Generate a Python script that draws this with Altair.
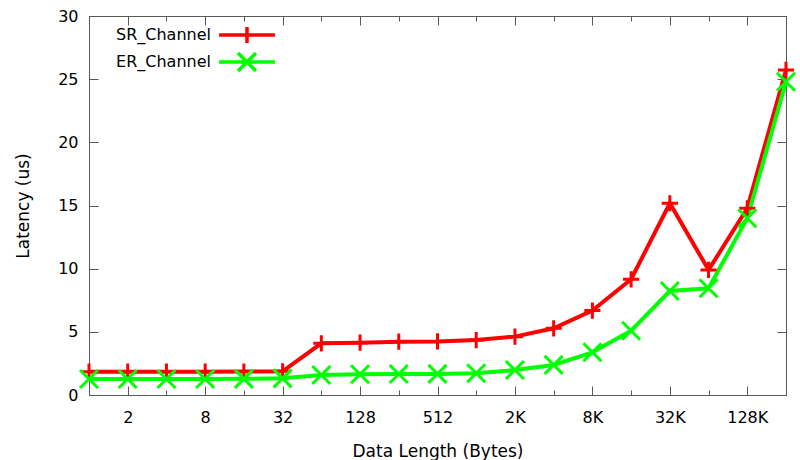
import altair as alt
import pandas as pd

sizes = ["1", "2", "4", "8", "16", "32", "64", "128", "256", "512", "1K", "2K",
         "4K", "8K", "16K", "32K", "64K", "128K", "256K"]
sr_latency = [1.85, 1.85, 1.85, 1.85, 1.86, 1.88, 4.09, 4.14, 4.22, 4.24, 4.35, 4.62,
              5.28, 6.68, 9.16, 15.18, 9.9, 14.78, 25.73]
er_latency = [1.27, 1.27, 1.27, 1.27, 1.28, 1.32, 1.58, 1.64, 1.66, 1.67, 1.72, 1.98,
              2.38, 3.38, 5.09, 8.23, 8.45, 13.99, 24.8]
series_names = ["SR_Channel", "ER_Channel"]
series_colors = ["#ff0000", "#00ff00"]
y_ticks = [0, 5, 10, 15, 20, 25, 30]

rows = []
for i, s in enumerate(sizes):
    rows.append({"idx": i, "size": s, "series": series_names[0], "latency": sr_latency[i]})
    rows.append({"idx": i, "size": s, "series": series_names[1], "latency": er_latency[i]})
df = pd.DataFrame(rows)

FONT = "DejaVu Sans"
AX = "#595959"
label_array = "[" + ",".join('"%s"' % s for s in sizes) + "]"
x_vals = list(range(len(sizes)))
x_scale = alt.Scale(domain=[0, len(sizes) - 1], nice=False, zero=False)
y_scale = alt.Scale(domain=[0, 30], nice=False)
color_scale = alt.Scale(domain=series_names, range=series_colors)
tick_expr = alt.ExprRef("datum.value % 2 == 1 ? -9 : -5")

legend_shape = ("datum.value === 'SR_Channel' ? 'M-3.1,0H3.1M0,-0.9V0.9' : "
                "'M-3.1,0H3.1M-1,-1L1,1M-1,1L1,-1'")
legend = alt.Legend(
    title=None, orient="none", legendX=147, legendY=8, padding=0,
    symbolSize=324, symbolStrokeWidth=3.5, symbolFillColor="transparent",
    symbolOpacity=1, symbolType=alt.ExprRef(legend_shape),
    labelFont=FONT, labelFontSize=16, labelColor="#000000",
    labelAlign="right", labelOffset=alt.ExprRef("-47"), rowPadding=alt.ExprRef("-10"))

x_bottom = alt.X("idx:Q", scale=x_scale, axis=alt.Axis(
    orient="bottom", values=x_vals, labelExpr="datum.value % 2 == 1 ? " + label_array + "[datum.value] : ''",
    tickSize=tick_expr, tickColor=AX, domain=False, grid=False,
    labelFont=FONT, labelFontSize=16, labelColor="#000000", labelPadding=23,
    labelBaseline="top", labelFlush=False, labelOverlap=False,
    title="Data Length (Bytes)", titleFont=FONT, titleFontSize=17, titleFontWeight="normal",
    titleColor="#000000", titleY=61.5, titleBaseline="alphabetic"))
y_left = alt.Y("latency:Q", scale=y_scale, axis=alt.Axis(
    orient="left", values=y_ticks, tickSize=alt.ExprRef("-9"), tickColor=AX, domain=False, grid=False,
    labelFont=FONT, labelFontSize=16, labelColor="#000000", labelPadding=20,
    labelFlush=False, labelOverlap=False,
    title="Latency (us)", titleFont=FONT, titleFontSize=17, titleFontWeight="normal",
    titleColor="#000000", titleX=-60.5, titleY=189.5, titleAngle=-90,
    titleBaseline="alphabetic", titleAlign="center"))
x_top = alt.X("idx:Q", scale=x_scale, axis=alt.Axis(
    orient="top", values=x_vals, tickSize=tick_expr, tickColor=AX, domain=False,
    grid=False, labels=False, title=None))
y_right = alt.Y("latency:Q", scale=y_scale, axis=alt.Axis(
    orient="right", values=y_ticks, tickSize=alt.ExprRef("-9"), tickColor=AX, domain=False,
    grid=False, labels=False, title=None))

lines = alt.Chart(df).mark_line(strokeWidth=4).encode(
    x=x_bottom, y=y_left,
    color=alt.Color("series:N", scale=color_scale, legend=None),
    detail="series:N",
)

points = alt.Chart(df).mark_point(filled=False, size=324, strokeWidth=3, opacity=1).encode(
    x=x_top, y=y_right,
    color=alt.Color("series:N", scale=color_scale, legend=None),
    shape=alt.Shape("series:N", scale=alt.Scale(
        domain=series_names, range=["M-0.9,0H0.9M0,-0.9V0.9", "M-1,-1L1,1M-1,1L1,-1"]), legend=None),
)

legend_layer = alt.Chart(df).mark_line(opacity=0).encode(
    x=alt.X("idx:Q", scale=x_scale, axis=None),
    y=alt.Y("latency:Q", scale=y_scale, axis=None),
    color=alt.Color("series:N", scale=color_scale, legend=legend),
    detail="series:N",
)

chart = alt.layer(lines, points, legend_layer).resolve_axis(
    x="independent", y="independent"
).resolve_legend(color="independent", shape="independent").properties(
    width=697, height=379, autosize="none",
    padding={"left": 89, "top": 16, "right": 14, "bottom": 65},
    background="white",
).configure_view(stroke=AX, strokeWidth=1)

chart.save("out.html", embed_options={"renderer": "svg", "actions": False})
